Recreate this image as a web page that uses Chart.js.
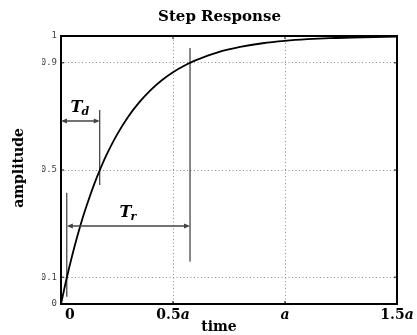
<!DOCTYPE html>
<html lang="en">
<head>
<meta charset="UTF-8">
<title>Step Response</title>
<script src="https://cdn.jsdelivr.net/npm/chart.js"></script>
<style>
  html, body { margin: 0; padding: 0; background: #fff; }
</style>
</head>
<body>
<canvas id="stepChart" width="417" height="335"></canvas>
<script>
// step response, time in units of a
const timeValues = [0, 0.025, 0.05, 0.075, 0.1, 0.125, 0.15, 0.175, 0.2, 0.25, 0.3, 0.35, 0.4,
                    0.45, 0.5, 0.55, 0.6, 0.7, 0.8, 0.9, 1.0, 1.1, 1.2, 1.3, 1.4, 1.5];
const amplitude = [0, 0.095, 0.181, 0.259, 0.330, 0.393, 0.451, 0.503, 0.551, 0.632, 0.699, 0.753, 0.798,
                   0.835, 0.865, 0.889, 0.909, 0.939, 0.959, 0.973, 0.982, 0.988, 0.992, 0.994, 0.996, 0.998];

const xTicks = [0, 0.5, 1, 1.5];
const xTickLabels = ['0', '0.5a', 'a', '1.5a'];
const yTicks = [0, 0.1, 0.5, 0.9, 1];
const yTickLabels = ['0', '0.1', '0.5', '0.9', '1'];

// vertical marker lines at 10%, 50% and 90%
const markerTimes = [0.026, 0.173, 0.576];
const markerLow = [0.027, 0.444, 0.158];
const markerHigh = [0.415, 0.724, 0.955];

// double arrows: T_d and T_r
const arrowSubs = ['d', 'r'];
const arrowFrom = [0, 0.026];
const arrowTo = [0.173, 0.576];
const arrowLevel = [0.683, 0.291];

const serif = '"DejaVu Serif", "Liberation Serif", serif';

const datasets = [{
  data: timeValues.map((t, i) => ({ x: t, y: amplitude[i] })),
  showLine: true,
  borderColor: '#000',
  borderWidth: 1.8,
  pointRadius: 0,
  tension: 0.3
}];
markerTimes.forEach((t, i) => {
  datasets.push({
    data: [{ x: t, y: markerLow[i] }, { x: t, y: markerHigh[i] }],
    showLine: true,
    borderColor: '#111',
    borderWidth: 1,
    pointRadius: 0
  });
});

function arrowHead(ctx, x, y, dir) {
  ctx.beginPath();
  ctx.moveTo(x, y);
  ctx.lineTo(x - dir * 6, y - 2.5);
  ctx.lineTo(x - dir * 6, y + 2.5);
  ctx.closePath();
  ctx.fill();
}

const decorations = {
  id: 'decorations',
  afterDraw(chart) {
    const ctx = chart.ctx;
    const a = chart.chartArea;
    const xs = chart.scales.x, ys = chart.scales.y;
    ctx.save();

    // frame
    ctx.strokeStyle = '#000';
    ctx.lineWidth = 2;
    ctx.strokeRect(a.left, a.top, a.right - a.left, a.bottom - a.top);

    // short inner tick marks
    ctx.lineWidth = 1;
    xTicks.slice(1, -1).forEach(v => {
      const px = xs.getPixelForValue(v);
      ctx.beginPath();
      ctx.moveTo(px, a.top); ctx.lineTo(px, a.top + 3);
      ctx.moveTo(px, a.bottom); ctx.lineTo(px, a.bottom - 3);
      ctx.stroke();
    });
    yTicks.slice(1, -1).forEach(v => {
      const py = ys.getPixelForValue(v);
      ctx.beginPath();
      ctx.moveTo(a.left, py); ctx.lineTo(a.left + 3, py);
      ctx.moveTo(a.right, py); ctx.lineTo(a.right - 3, py);
      ctx.stroke();
    });

    // arrows with labels
    arrowSubs.forEach((sub, i) => {
      const x1 = xs.getPixelForValue(arrowFrom[i]);
      const x2 = xs.getPixelForValue(arrowTo[i]);
      const y = ys.getPixelForValue(arrowLevel[i]);
      ctx.strokeStyle = '#444';
      ctx.fillStyle = '#444';
      ctx.lineWidth = 1.5;
      ctx.beginPath();
      ctx.moveTo(x1 + 2, y); ctx.lineTo(x2 - 2, y);
      ctx.stroke();
      arrowHead(ctx, x1, y, -1);
      arrowHead(ctx, x2, y, 1);

      ctx.fillStyle = '#000';
      ctx.textBaseline = 'alphabetic';
      ctx.textAlign = 'left';
      ctx.font = 'italic bold 16px ' + serif;
      const wT = ctx.measureText('T').width;
      ctx.font = 'italic bold 11px ' + serif;
      const wS = ctx.measureText(sub).width;
      const left = (x1 + x2) / 2 - (wT + wS) / 2;
      const base = y - 9;
      ctx.font = 'italic bold 16px ' + serif;
      ctx.fillText('T', left, base);
      ctx.font = 'italic bold 11px ' + serif;
      ctx.fillText(sub, left + wT - 1, base + 3);
    });

    // x tick labels, the trailing a set in italic
    ctx.fillStyle = '#000';
    ctx.textBaseline = 'alphabetic';
    xTicks.forEach((v, i) => {
      const label = xTickLabels[i];
      const num = label.endsWith('a') ? label.slice(0, -1) : label;
      const sym = label.endsWith('a') ? 'a' : '';
      ctx.font = 'bold 14px ' + serif;
      const wN = ctx.measureText(num).width;
      ctx.font = 'italic bold 14px ' + serif;
      const wA = ctx.measureText(sym).width;
      const px = xs.getPixelForValue(v);
      let left = px - (wN + wA) / 2;
      if (i === 0) left = px + 4;
      ctx.textAlign = 'left';
      ctx.font = 'bold 14px ' + serif;
      ctx.fillText(num, left, a.bottom + 15);
      ctx.font = 'italic bold 14px ' + serif;
      ctx.fillText(sym, left + wN, a.bottom + 15);
    });

    // axis titles
    ctx.font = 'bold 14px ' + serif;
    ctx.textAlign = 'center';
    ctx.fillText('time', a.left + 158, a.bottom + 27);
    ctx.translate(19, 168);
    ctx.rotate(-Math.PI / 2);
    ctx.textBaseline = 'middle';
    ctx.fillText('amplitude', 0, 0);
    ctx.restore();
  }
};

function gridColor(edgeMin, edgeMax) {
  return c => (c.tick && (c.tick.value === edgeMin || c.tick.value === edgeMax)) ? 'rgba(0,0,0,0)' : '#8a8a8a';
}

new Chart(document.getElementById('stepChart').getContext('2d'), {
  type: 'scatter',
  data: { datasets: datasets },
  plugins: [decorations],
  options: {
    responsive: false,
    animation: false,
    layout: { padding: { left: 42, right: 20, top: 0, bottom: 0 } },
    plugins: {
      legend: { display: false },
      tooltip: { enabled: false },
      title: {
        display: true,
        text: 'Step Response',
        color: '#000',
        font: { family: serif, size: 15, weight: 'bold' },
        padding: { top: 8, bottom: 10 }
      }
    },
    scales: {
      x: {
        type: 'linear',
        min: 0,
        max: 1.5,
        afterBuildTicks: s => { s.ticks = xTicks.map(v => ({ value: v })); },
        afterFit: s => { s.height = 31; },
        ticks: { display: false },
        grid: { drawTicks: false, color: gridColor(0, 1.5), lineWidth: 1 },
        border: { display: false, dash: [1, 2.5] }
      },
      y: {
        type: 'linear',
        min: 0,
        max: 1,
        afterBuildTicks: s => { s.ticks = yTicks.map(v => ({ value: v })); },
        afterFit: s => { s.width = 19; },
        ticks: {
          color: '#444',
          padding: 4,
          font: { family: '"DejaVu Sans Mono", monospace', size: 9 },
          callback: v => yTickLabels[yTicks.indexOf(v)]
        },
        grid: { drawTicks: false, color: gridColor(0, 1), lineWidth: 1 },
        border: { display: false, dash: [1, 2.5] }
      }
    }
  }
});
</script>
</body>
</html>
